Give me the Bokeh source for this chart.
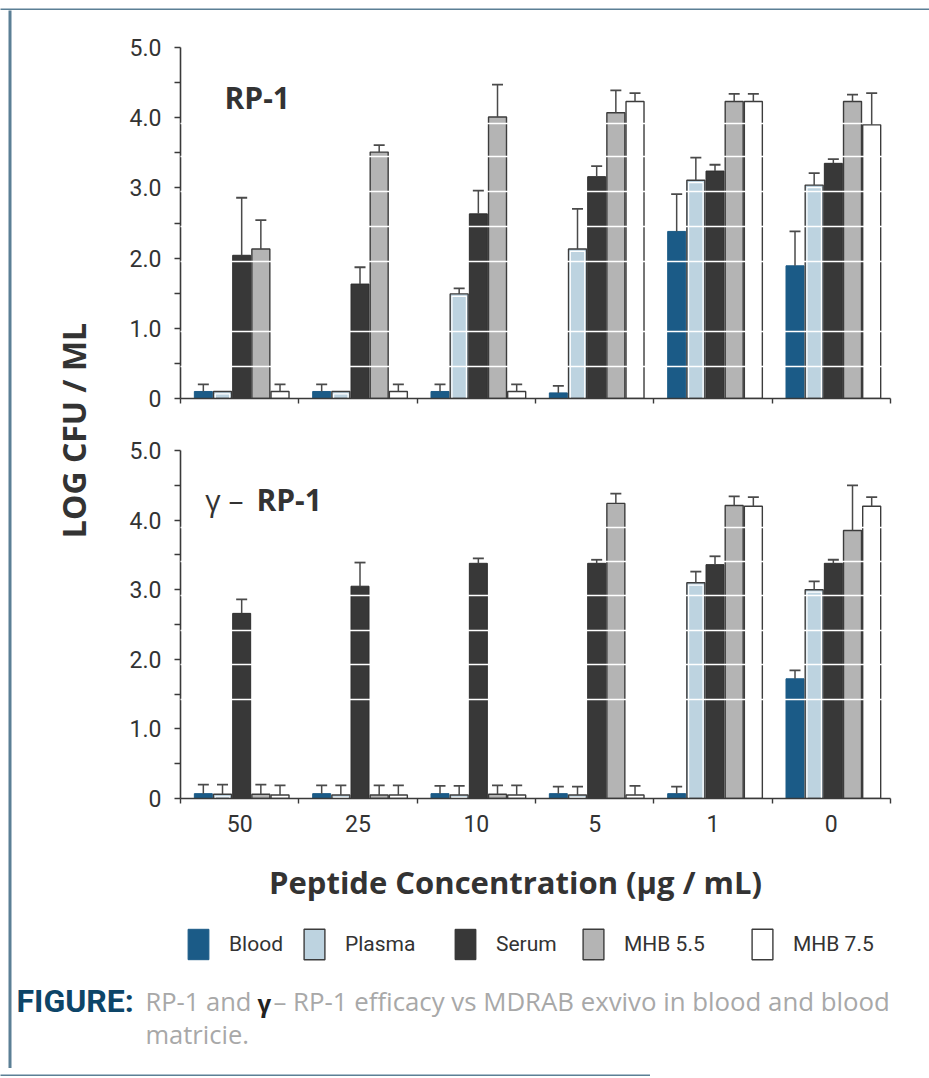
import math
from bokeh.plotting import figure
from bokeh.models import (ColumnDataSource, Range1d, FixedTicker, Whisker, TeeHead,
                          Label, Legend, LegendItem)
from bokeh.layouts import column, row
from bokeh.embed import file_html
from bokeh.resources import INLINE

# ---------------- data ----------------
groups = ["50", "25", "10", "5", "1", "0"]
series = ["Blood", "Plasma", "Serum", "MHB 5.5", "MHB 7.5"]

# RP-1 (top panel): mean log CFU/mL and upper error (SD)
rp1_blood = [0.10, 0.10, 0.10, 0.08, 2.38, 1.89]
rp1_blood_sd = [0.10, 0.10, 0.10, 0.10, 0.53, 0.49]
rp1_plasma = [0.10, 0.10, 1.49, 2.13, 3.11, 3.04]
rp1_plasma_sd = [0.00, 0.00, 0.08, 0.57, 0.32, 0.17]
rp1_serum = [2.04, 1.63, 2.63, 3.16, 3.24, 3.35]
rp1_serum_sd = [0.82, 0.24, 0.33, 0.15, 0.09, 0.06]
rp1_mhb55 = [2.13, 3.51, 4.01, 4.07, 4.23, 4.23]
rp1_mhb55_sd = [0.41, 0.10, 0.46, 0.32, 0.11, 0.10]
rp1_mhb75 = [0.10, 0.10, 0.10, 4.23, 4.23, 3.90]
rp1_mhb75_sd = [0.10, 0.10, 0.10, 0.12, 0.11, 0.45]

# gamma-RP-1 (bottom panel)
g_blood = [0.07, 0.07, 0.07, 0.07, 0.07, 1.72]
g_blood_sd = [0.13, 0.12, 0.11, 0.10, 0.10, 0.12]
g_plasma = [0.06, 0.05, 0.05, 0.05, 3.10, 3.00]
g_plasma_sd = [0.14, 0.14, 0.13, 0.12, 0.16, 0.12]
g_serum = [2.66, 3.05, 3.38, 3.38, 3.36, 3.38]
g_serum_sd = [0.20, 0.34, 0.07, 0.05, 0.12, 0.05]
g_mhb55 = [0.06, 0.05, 0.06, 4.24, 4.21, 3.85]
g_mhb55_sd = [0.14, 0.14, 0.13, 0.14, 0.13, 0.65]
g_mhb75 = [0.05, 0.05, 0.05, 0.05, 4.20, 4.20]
g_mhb75_sd = [0.14, 0.14, 0.14, 0.13, 0.13, 0.13]

y_ticks = [0, 1, 2, 3, 4, 5]
y_tick_labels = ["0", "1.0", "2.0", "3.0", "4.0", "5.0"]
y_minor = [0.5, 1.5, 2.5, 3.5, 4.5]

# white bands across the bars (as in the scanned original)
top_bands = [0.45, 0.95, 1.95, 2.45, 2.95, 3.45, 3.92]
bottom_bands = [1.42, 1.92, 2.42, 2.92, 3.40, 3.90]

# ---------------- styles ----------------
BORDER = "#5b7f95"
AX = "#3a3a3a"
TXT = "#333333"
TICKF = "Roboto"
BOLD = "Open Sans"

styles = [
    dict(fill_color="#1b5b87", line_color="#1b5b87", line_width=1),
    dict(fill_color="#bdd3e0", line_color="#3c3c3c", line_width=1.4),
    dict(fill_color="#383838", line_color="#2e2e2e", line_width=1),
    dict(fill_color="#b4b4b4", line_color="#3c3c3c", line_width=1.4),
    dict(fill_color="#ffffff", line_color="#3c3c3c", line_width=1.4),
]
offsets = [0.017 + 0.162 * (k - 2) for k in range(5)]
BAR_W = 0.152


def strip(w, h, left=0, right=0, top=0, bottom=0):
    s = figure(width=w, height=h, toolbar_location=None, output_backend="svg",
               min_border_left=left, min_border_right=right,
               min_border_top=top, min_border_bottom=bottom,
               x_axis_type=None, y_axis_type=None,
               x_range=Range1d(0, 1), y_range=Range1d(0, 1),
               background_fill_color=BORDER, border_fill_color="white",
               outline_line_color=None)
    s.grid.visible = False
    return s


def panel(vals, sds, bands, height, mb_top, mb_bottom, show_labels, tag_pieces):
    p = figure(width=817, height=height, x_range=Range1d(0, 6), y_range=Range1d(0, 5),
               output_backend="svg", toolbar_location=None,
               min_border_left=68, min_border_right=39,
               min_border_top=mb_top, min_border_bottom=mb_bottom)
    p.outline_line_color = None
    p.xgrid.visible = False
    p.ygrid.ticker = FixedTicker(ticks=bands)
    p.ygrid.grid_line_color = "white"
    p.ygrid.grid_line_width = 1.6
    p.ygrid.level = "overlay"

    for k in range(5):
        xs = [g + 0.5 + offsets[k] for g in range(len(groups))]
        src = ColumnDataSource(dict(x=xs, top=vals[k]))
        p.vbar(x="x", top="top", bottom=0, width=BAR_W, source=src, **styles[k])
        if k == 1:
            inner = ColumnDataSource(dict(x=xs, top=[max(v - 0.035, 0.0) for v in vals[k]]))
            p.vbar(x="x", top="top", bottom=0.0, width=BAR_W - 0.03, source=inner,
                   fill_color=None, line_color="white", line_width=1.2)
        ex = [x for x, e in zip(xs, sds[k]) if e > 0]
        lo = [v for v, e in zip(vals[k], sds[k]) if e > 0]
        hi = [v + e for v, e in zip(vals[k], sds[k]) if e > 0]
        wsrc = ColumnDataSource(dict(x=ex, lo=lo, hi=hi))
        w = Whisker(source=wsrc, base="x", lower="lo", upper="hi", dimension="height",
                    line_color="#4a4a4a", line_width=1.5,
                    upper_head=TeeHead(size=11, line_color="#4a4a4a", line_width=1.8),
                    lower_head=None, level="overlay")
        p.add_layout(w)

    # y axis
    ya = p.yaxis[0]
    ya.ticker = FixedTicker(ticks=y_ticks, minor_ticks=y_minor)
    ya.major_label_overrides = {t: l for t, l in zip(y_ticks, y_tick_labels)}
    ya.axis_line_color = AX
    ya.axis_line_width = 1.6
    ya.major_tick_line_color = AX
    ya.minor_tick_line_color = AX
    ya.major_tick_line_width = 1.4
    ya.minor_tick_line_width = 1.4
    ya.major_tick_in = 0
    ya.major_tick_out = 6
    ya.minor_tick_in = 0
    ya.minor_tick_out = 6
    ya.major_label_standoff = 13
    ya.major_label_text_font = TICKF
    ya.major_label_text_font_size = "23px"
    ya.major_label_text_color = TXT

    # x axis
    xa = p.xaxis[0]
    centers = [g + 0.5 for g in range(len(groups))]
    bounds = list(range(len(groups) + 1))
    xa.axis_line_color = AX
    xa.axis_line_width = 1.6
    xa.major_tick_line_color = None
    xa.minor_tick_line_color = AX
    xa.minor_tick_line_width = 1.4
    xa.minor_tick_in = 0
    xa.minor_tick_out = 5
    if show_labels:
        xa.ticker = FixedTicker(ticks=centers, minor_ticks=bounds)
        xa.major_label_overrides = {c: g for c, g in zip(centers, groups)}
        xa.major_label_standoff = 10
        xa.major_label_text_font = TICKF
        xa.major_label_text_font_size = "23px"
        xa.major_label_text_color = TXT
    else:
        xa.ticker = FixedTicker(ticks=[], minor_ticks=bounds)

    for (txt, x, style) in tag_pieces:
        p.add_layout(Label(x=x, y=4.29, text=txt, text_font=BOLD,
                           text_font_size="30px", text_font_style=style,
                           text_color=TXT, text_baseline="middle", text_align="left"))
    return p


top = panel([rp1_blood, rp1_plasma, rp1_serum, rp1_mhb55, rp1_mhb75],
            [rp1_blood_sd, rp1_plasma_sd, rp1_serum_sd, rp1_mhb55_sd, rp1_mhb75_sd],
            top_bands, 410, 37, 22, False, [("RP-1", 0.372, "bold")])
bot = panel([g_blood, g_plasma, g_serum, g_mhb55, g_mhb75],
            [g_blood_sd, g_plasma_sd, g_serum_sd, g_mhb55_sd, g_mhb75_sd],
            bottom_bands, 430, 30, 52, True, [("γ –", 0.21, "normal"), ("RP-1", 0.642, "bold")])

# left panel carrying the shared y-axis title
LW, LH = 100, 840
L = figure(width=LW, height=LH, x_range=Range1d(0, 1), y_range=Range1d(0, 1),
           output_backend="svg", toolbar_location=None,
           min_border_left=90, min_border_right=0, min_border_top=0, min_border_bottom=0,
           x_axis_type=None, outline_line_color=None)
L.grid.visible = False
la = L.yaxis[0]
la.ticker = FixedTicker(ticks=[])
la.axis_line_color = None
la.major_tick_line_color = None
la.minor_tick_line_color = None
la.axis_label = "LOG CFU / ML"
la.axis_label_text_font = BOLD
la.axis_label_text_font_style = "bold"
la.axis_label_text_font_size = "32px"
la.axis_label_text_color = TXT
la.axis_label_standoff = 8

# caption / legend panel
CW, CH = 917, 218
C = figure(width=CW, height=CH, x_range=Range1d(0, CW), y_range=Range1d(CH, 0),
           output_backend="svg", toolbar_location=None, min_border=0,
           x_axis_type=None, y_axis_type=None, outline_line_color=None)
C.grid.visible = False
C.add_layout(Label(x=503, y=31, text="Peptide Concentration (μg / mL)",
                   text_font=BOLD, text_font_style="bold", text_font_size="31px",
                   text_color=TXT, text_align="center", text_baseline="middle"))

legend_x = [173, 289, 440, 568, 737]
for k, s in enumerate(series):
    r = C.vbar(x=[0], top=[0], width=1, visible=False, **styles[k])
    leg = Legend(items=[LegendItem(label=s, renderers=[r])], location=(legend_x[k], 105),
                 orientation="horizontal", glyph_width=26, glyph_height=38,
                 label_standoff=18, padding=0, margin=0, border_line_color=None,
                 background_fill_alpha=0, inactive_fill_alpha=0,
                 label_text_font=TICKF, label_text_font_size="21px",
                 label_text_color=TXT)
    C.add_layout(leg)

C.add_layout(Label(x=4, y=150, text="FIGURE:", text_font="Roboto",
                   text_font_style="bold", text_font_size="32px", text_color="#0d4568",
                   text_align="left", text_baseline="middle"))
CAP = "#a8a8a8"
C.add_layout(Label(x=133, y=150, text="RP-1 and", text_font=BOLD,
                   text_font_size="25.5px", text_color=CAP, text_align="left", text_baseline="middle"))
C.add_layout(Label(x=245, y=152, text="γ", text_font=BOLD, text_font_style="bold",
                   text_font_size="24px", text_color="#222222", text_align="left", text_baseline="middle"))
C.add_layout(Label(x=261, y=150, text="– RP-1 efficacy vs MDRAB exvivo in blood and blood",
                   text_font=BOLD, text_font_size="25.8px", text_color=CAP,
                   text_align="left", text_baseline="middle"))
C.add_layout(Label(x=133, y=183, text="matricie.", text_font=BOLD,
                   text_font_size="25.5px", text_color=CAP, text_align="left", text_baseline="middle"))

layout = column(
    strip(929, 10, top=6, bottom=1),
    row(strip(12, LH + CH, left=8, right=1),
        column(row(L, column(top, bot)), C)),
    row(strip(650, 8, top=2, bottom=3)),
)

open("out.html", "w").write(file_html(layout, INLINE))
